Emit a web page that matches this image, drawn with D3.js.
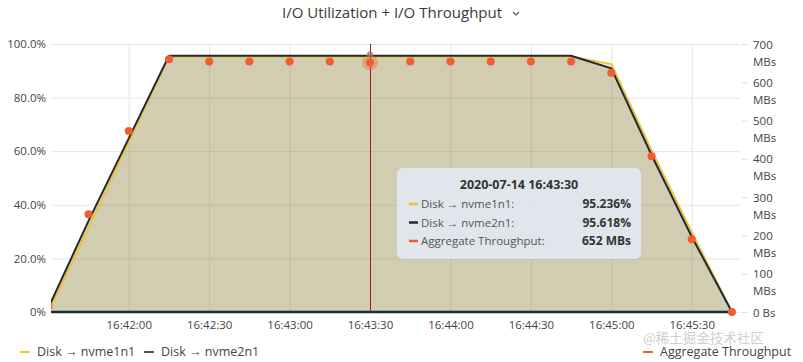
<!DOCTYPE html>
<html>
<head>
<meta charset="utf-8">
<script src="https://cdn.jsdelivr.net/npm/d3@7"></script>
<style>
  body { margin: 0; background: #fff; font-family: "Open Sans", sans-serif; }
</style>
</head>
<body>
<div id="chart"></div>
<script>
// Données (un point toutes les 15 s)
const times = ["16:41:30", "16:41:45", "16:42:00", "16:42:15", "16:42:30", "16:42:45", "16:43:00",
    "16:43:15", "16:43:30", "16:43:45", "16:44:00", "16:44:15", "16:44:30", "16:44:45",
    "16:45:00", "16:45:15", "16:45:30", "16:45:45"];
const nvme1n1 = [0, 31.5, 63.5, 95.2, 95.2, 95.2, 95.2, 95.2, 95.236, 95.2, 95.2, 95.2, 95.2, 95.2, 92.5, 60.3, 29.8, 0];
const nvme2n1 = [1.5, 34, 64.8, 95.6, 95.6, 95.6, 95.6, 95.6, 95.618, 95.6, 95.6, 95.6, 95.6, 95.6, 90.9, 58.6, 28.1, 0];
const throughput = [15, 255, 473, 660, 654, 654, 654, 654, 652, 654, 654, 654, 654, 654, 625, 407, 190, 0];

const utilTicks = [0, 20, 40, 60, 80, 100];
const utilTickLabels = ["0%", "20.0%", "40.0%", "60.0%", "80.0%", "100.0%"];
const mbTicks = [0, 100, 200, 300, 400, 500, 600, 700];
const mbTickLabels = [["0 Bs"], ["100", "MBs"], ["200", "MBs"], ["300", "MBs"], ["400", "MBs"],
    ["500", "MBs"], ["600", "MBs"], ["700", "MBs"]];
const timeTicks = ["16:42:00", "16:42:30", "16:43:00", "16:43:30", "16:44:00", "16:44:30", "16:45:00", "16:45:30"];
const hoverTime = "16:43:30";
const hoverDate = "2020-07-14";

const colors = { nvme1n1: "#f0c231", nvme2n1: "#1c2a3a", throughput: "#ef5d32" };

const parseTime = d3.timeParse("%H:%M:%S");
const data = times.map((t, i) => ({
    t: parseTime(t), a: nvme1n1[i], b: nvme2n1[i], mb: throughput[i]
}));

const W = 803, H = 362;
const margin = { top: 44, right: 63, bottom: 50, left: 51 };
const x0 = margin.left, x1 = W - margin.right, yTop = margin.top, yBot = H - margin.bottom;

const x = d3.scaleTime()
    .domain([parseTime("16:41:31"), parseTime("16:45:48")])
    .range([x0, x1]);
const yUtil = d3.scaleLinear().domain([0, 100]).range([yBot, yTop]);
const yMb = d3.scaleLinear().domain([0, 700]).range([yBot, yTop]);

const svg = d3.select("#chart").append("svg")
    .attr("width", W).attr("height", H)
    .style("font-family", "'Open Sans', sans-serif");

svg.append("defs").append("clipPath").attr("id", "plot")
    .append("rect").attr("x", x0).attr("y", yTop - 10).attr("width", x1 - x0).attr("height", yBot - yTop + 20);

// Titre
svg.append("text")
    .attr("x", 392).attr("y", 18)
    .attr("text-anchor", "middle")
    .style("font-size", "15px")
    .style("fill", "#3a3a3a")
    .text("I/O Utilization + I/O Throughput");
svg.append("path")
    .attr("d", "M513,12 l3,3 l3,-3")
    .style("fill", "none").style("stroke", "#555").style("stroke-width", 1.1);

// Grille
svg.append("g")
    .attr("transform", `translate(${x0},0)`)
    .call(d3.axisLeft(yUtil).tickValues(utilTicks).tickSize(-(x1 - x0)).tickFormat(""))
    .call(g => g.select(".domain").remove())
    .call(g => g.selectAll("line").style("stroke", "#e6e6e6"));

svg.append("g")
    .attr("transform", `translate(0,${yBot})`)
    .call(d3.axisBottom(x).tickValues(timeTicks.map(parseTime)).tickSize(-(yBot - yTop)).tickFormat(""))
    .call(g => g.select(".domain").remove())
    .call(g => g.selectAll("line").style("stroke", "#e4e4e4"));

// Aires + lignes
const plot = svg.append("g").attr("clip-path", "url(#plot)");

const areaA = d3.area().x(d => x(d.t)).y0(yUtil(0)).y1(d => yUtil(d.a));
const areaB = d3.area().x(d => x(d.t)).y0(yUtil(0)).y1(d => yUtil(d.b));
const lineA = d3.line().x(d => x(d.t)).y(d => yUtil(d.a));
const lineB = d3.line().x(d => x(d.t)).y(d => yUtil(d.b));

plot.append("path").datum(data).attr("d", areaA)
    .style("fill", colors.nvme1n1).style("fill-opacity", 0.25);
plot.append("path").datum(data).attr("d", areaB)
    .style("fill", colors.nvme2n1).style("fill-opacity", 0.18);

plot.append("path").datum(data).attr("d", lineA)
    .style("fill", "none").style("stroke", colors.nvme1n1).style("stroke-width", 2);
plot.append("path").datum(data).attr("d", lineB)
    .style("fill", "none").style("stroke", colors.nvme2n1).style("stroke-width", 2);

// Ligne de base sombre
plot.append("line")
    .attr("x1", x0).attr("x2", x(data[data.length - 1].t))
    .attr("y1", yUtil(0)).attr("y2", yUtil(0))
    .style("stroke", colors.nvme2n1).style("stroke-width", 2.5);

// Curseur vertical
const hx = x(parseTime(hoverTime));
svg.append("line")
    .attr("x1", Math.round(hx) + 0.5).attr("x2", Math.round(hx) + 0.5).attr("y1", yTop).attr("y2", yBot)
    .style("stroke", "#9e1b22").style("stroke-width", 1);

// Points du débit
const dotsG = svg.append("g").attr("clip-path", "url(#plot)");
const hover = data.find(d => +d.t === +parseTime(hoverTime));
dotsG.append("circle")
    .attr("cx", hx).attr("cy", yMb(hover.mb)).attr("r", 8)
    .style("fill", colors.throughput).style("opacity", 0.35);
dotsG.selectAll("circle.dot")
    .data(data)
    .join("circle")
    .attr("class", "dot")
    .attr("cx", d => x(d.t))
    .attr("cy", d => yMb(d.mb))
    .attr("r", 4)
    .style("fill", colors.throughput);
dotsG.append("circle")
    .attr("cx", hx).attr("cy", yUtil(hover.b) - 1.5).attr("r", 3)
    .style("fill", "#8a7f72").style("opacity", 0.8);

// Axe gauche
svg.append("g")
    .attr("transform", `translate(${x0},0)`)
    .call(d3.axisLeft(yUtil).tickValues(utilTicks).tickSize(0).tickPadding(5)
        .tickFormat((d, i) => utilTickLabels[i]))
    .call(g => g.select(".domain").remove())
    .call(g => g.selectAll("text").style("font-size", "11.5px").style("fill", "#444")
        .style("font-family", "'Open Sans', sans-serif"));

// Axe droit (deux lignes)
const right = svg.append("g")
    .attr("transform", `translate(${x1 + 2},0)`)
    .call(d3.axisRight(yMb).tickValues(mbTicks).tickSize(5).tickPadding(7).tickFormat(""))
    .call(g => g.select(".domain").remove())
    .call(g => g.selectAll("line").style("stroke", "#ddd"));
right.selectAll(".tick text").each(function (d, i) {
    const t = d3.select(this)
        .attr("dy", null).attr("y", 4)
        .style("font-size", "11.5px").style("fill", "#444")
        .style("font-family", "'Open Sans', sans-serif");
    mbTickLabels[i].forEach((s, k) => {
        t.append("tspan").attr("x", 11).attr("dy", k === 0 ? 0 : 17).text(s);
    });
});

// Axe du temps
svg.append("g")
    .attr("transform", `translate(0,${yBot})`)
    .call(d3.axisBottom(x).tickValues(timeTicks.map(parseTime)).tickSize(0).tickPadding(9)
        .tickFormat(d3.timeFormat("%H:%M:%S")))
    .call(g => g.select(".domain").remove())
    .call(g => g.selectAll("text").style("font-size", "11.5px").style("fill", "#444")
        .style("font-family", "'Open Sans', sans-serif"));

// Infobulle
const tip = svg.append("g").attr("transform", "translate(397,168)");
tip.append("rect")
    .attr("width", 244).attr("height", 91).attr("rx", 6)
    .style("fill", "#e2e6ef").style("opacity", 0.95);
tip.append("text")
    .attr("x", 122).attr("y", 21).attr("text-anchor", "middle")
    .style("font-size", "12.5px").style("font-weight", "bold").style("fill", "#333")
    .text(`${hoverDate} ${hoverTime}`);
const rows = [
    { c: colors.nvme1n1, label: "Disk \u2192 nvme1n1:", value: `${hover.a.toFixed(3)}%` },
    { c: colors.nvme2n1, label: "Disk \u2192 nvme2n1:", value: `${hover.b.toFixed(3)}%` },
    { c: colors.throughput, label: "Aggregate Throughput:", value: `${hover.mb} MBs` }
];
rows.forEach((r, i) => {
    const yy = 40 + i * 18.5;
    tip.append("line").attr("x1", 12).attr("x2", 21).attr("y1", yy - 4).attr("y2", yy - 4)
        .style("stroke", r.c).style("stroke-width", 2.5);
    tip.append("text").attr("x", 24).attr("y", yy)
        .style("font-size", "11.5px").style("fill", "#555").text(r.label);
    tip.append("text").attr("x", 234).attr("y", yy).attr("text-anchor", "end")
        .style("font-size", "12px").style("font-weight", "bold").style("fill", "#333").text(r.value);
});

// Légende
const legend = [
    { c: colors.nvme1n1, label: "Disk \u2192 nvme1n1", x: 20 },
    { c: "#555", label: "Disk \u2192 nvme2n1", x: 144 },
    { c: colors.throughput, label: "Aggregate Throughput", x: 643 }
];
legend.forEach(l => {
    svg.append("line").attr("x1", l.x).attr("x2", l.x + 10).attr("y1", 352).attr("y2", 352)
        .style("stroke", l.c).style("stroke-width", 2);
    svg.append("text").attr("x", l.x + 17).attr("y", 356)
        .style("font-size", "12.5px").style("fill", "#444").text(l.label);
});

// Filigrane
svg.append("text")
    .attr("x", 643).attr("y", 343)
    .style("font-size", "13.5px").style("fill", "#c8c8c8").style("opacity", 0.85)
    .style("font-family", "'Noto Sans CJK SC', sans-serif")
    .text("@稀土掘金技术社区");
</script>
</body>
</html>
